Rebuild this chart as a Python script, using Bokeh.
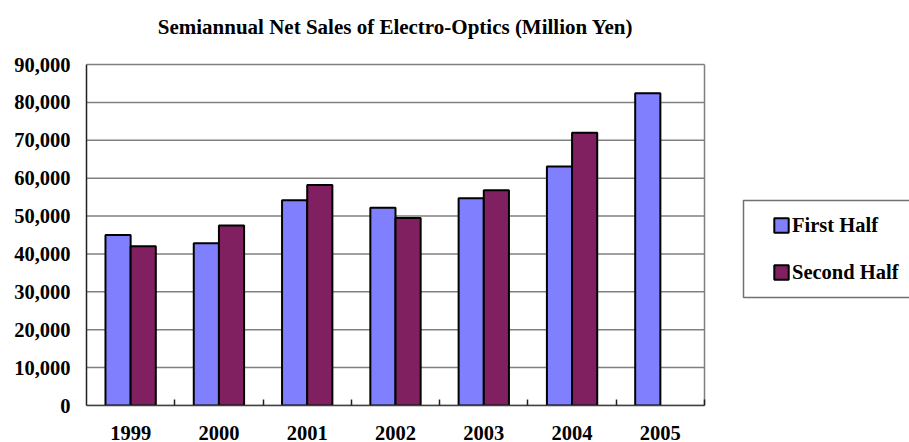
import numpy as np
from bokeh.plotting import figure
from bokeh.models import (Range1d, FixedTicker, NumeralTickFormatter, Legend,
                          LegendItem, ColumnDataSource, Label, BoxAnnotation)
from bokeh.embed import file_html
from bokeh.resources import INLINE

years = ["1999", "2000", "2001", "2002", "2003", "2004", "2005"]
first_half = [45000, 42800, 54200, 52200, 54700, 63100, 82400]
second_half = [42000, 47500, 58200, 49500, 56800, 72000, None]
y_ticks = [0, 10000, 20000, 30000, 40000, 50000, 60000, 70000, 80000, 90000]
series_names = ["First Half", "Second Half"]
title_text = "Semiannual Net Sales of Electro-Optics (Million Yen)"

FONT = "Liberation Serif"
BLUE = "#8080FF"
PLUM = "#802060"
GRID = "#808080"

# layout geometry (pixels)
W, H = 909, 442
LEFT, BOTTOM_PAD = 86, 37          # y-axis panel width, x-axis panel height
PLOT_RIGHT, PLOT_TOP = 704, 64     # where the chart box ends
FRAME_BOTTOM = H - BOTTOM_PAD

n = len(years)
x_end = n * (W - LEFT) / (PLOT_RIGHT - LEFT)
y_end = y_ticks[-1] * FRAME_BOTTOM / (FRAME_BOTTOM - PLOT_TOP)

idx = np.arange(n)
centers = idx + 0.5
bar_w = 0.285

src = ColumnDataSource(dict(
    x1=centers - bar_w / 2,
    x2=centers + bar_w / 2,
    first=np.array(first_half, dtype=float),
    second=np.array([np.nan if v is None else v for v in second_half], dtype=float),
))

p = figure(width=W, height=H, x_range=Range1d(0, x_end),
           y_range=Range1d(0, y_end), output_backend="svg",
           toolbar_location=None, min_border_left=LEFT, min_border_right=0,
           min_border_top=0, min_border_bottom=BOTTOM_PAD)
p.outline_line_color = None
p.xgrid.visible = False
p.ygrid.visible = False
p.background_fill_color = "white"

# grid lines and right border of the chart box
p.segment(x0=[0] * len(y_ticks), x1=[n] * len(y_ticks), y0=y_ticks, y1=y_ticks,
          line_color=GRID, line_width=1.5)
p.segment(x0=[n], x1=[n], y0=[0], y1=[y_ticks[-1]], line_color=GRID, line_width=1.5)

r1 = p.vbar(x="x1", top="first", width=bar_w, bottom=0, source=src,
            fill_color=BLUE, line_color="black", line_width=2)
r2 = p.vbar(x="x2", top="second", width=bar_w, bottom=0, source=src,
            fill_color=PLUM, line_color="black", line_width=2)

yax = p.yaxis[0]
yax.bounds = (0, y_ticks[-1])
yax.ticker = FixedTicker(ticks=y_ticks)
yax.formatter = NumeralTickFormatter(format="0,0")
yax.major_tick_out = 0
yax.major_tick_in = 0
yax.minor_tick_line_color = None
yax.major_label_standoff = 16
yax.major_label_text_font = FONT
yax.major_label_text_font_size = "20.5px"
yax.major_label_text_font_style = "bold"
yax.major_label_text_color = "black"
yax.axis_line_color = "#202020"
yax.axis_line_width = 1.5

xax = p.xaxis[0]
xax.bounds = (0, n)
xax.ticker = FixedTicker(ticks=list(centers), minor_ticks=list(range(1, n + 1)))
xax.major_label_overrides = {float(c): y for c, y in zip(centers, years)}
xax.major_tick_line_color = None
xax.minor_tick_in = 6
xax.minor_tick_out = 0
xax.minor_tick_line_color = "#202020"
xax.minor_tick_line_width = 1.5
xax.major_label_standoff = 14
xax.major_label_text_font = FONT
xax.major_label_text_font_size = "20.5px"
xax.major_label_text_font_style = "bold"
xax.major_label_text_color = "black"
xax.axis_line_color = "#404040"
xax.axis_line_width = 1.5

# title (screen units relative to the frame's bottom-left)
p.add_layout(Label(x=(PLOT_RIGHT - LEFT) / 2, y=FRAME_BOTTOM - 26, x_units="screen",
                   y_units="screen", text=title_text, text_align="center",
                   text_baseline="middle", text_font=FONT, text_font_size="21px",
                   text_font_style="bold", text_color="black"))

# legend box
p.add_layout(BoxAnnotation(left=743 - LEFT, right=W - LEFT + 20,
                           bottom=FRAME_BOTTOM - 297, top=FRAME_BOTTOM - 200,
                           left_units="screen", right_units="screen",
                           top_units="screen", bottom_units="screen",
                           fill_color="white", fill_alpha=1,
                           line_color="#707070", line_width=1.5, line_alpha=1,
                           line_dash="solid", level="annotation"))

legend = Legend(items=[LegendItem(label=series_names[0], renderers=[r1]),
                       LegendItem(label=series_names[1], renderers=[r2])],
                location=(772 - LEFT, FRAME_BOTTOM - 284), padding=5, spacing=23,
                margin=0, glyph_width=18, glyph_height=18, label_height=24,
                label_standoff=2, label_text_font=FONT,
                label_text_font_size="20.5px", label_text_font_style="bold",
                label_text_color="black", border_line_color=None,
                background_fill_alpha=0)
p.add_layout(legend)

open("out.html", "w").write(file_html(p, INLINE))
